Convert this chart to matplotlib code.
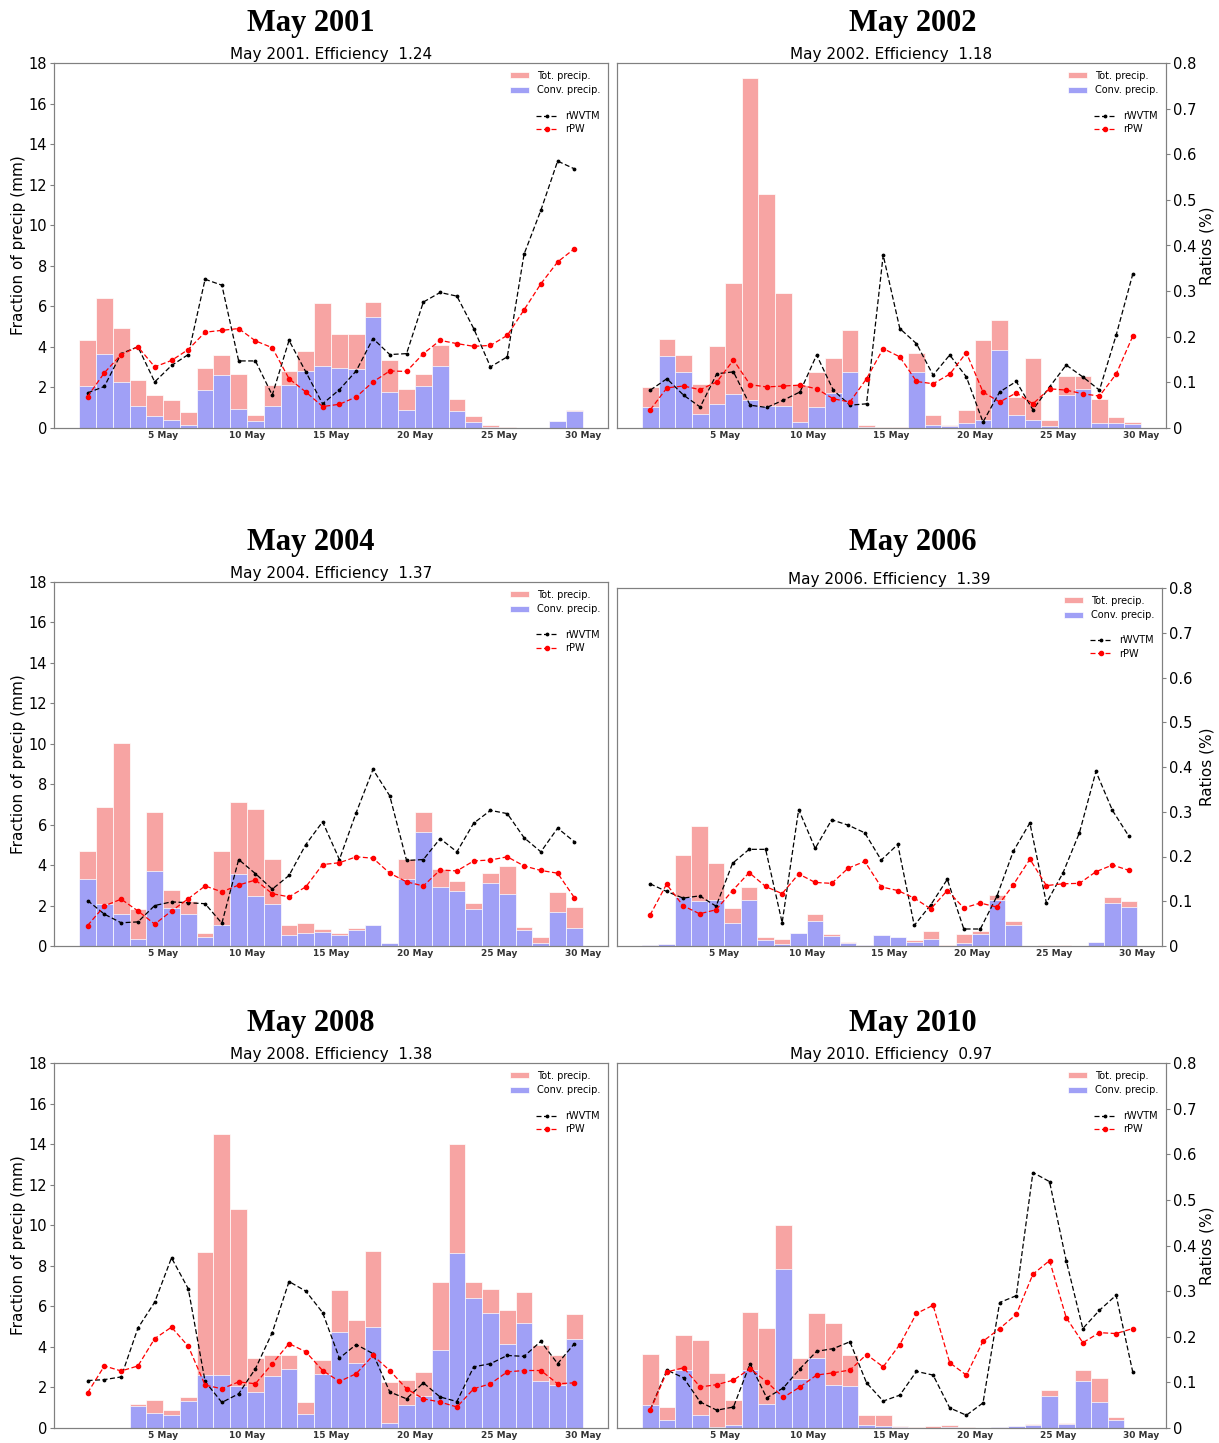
import numpy as np
import matplotlib.pyplot as plt
from matplotlib.ticker import FuncFormatter

plt.rcParams['font.family'] = 'DejaVu Sans'

# day of month, bars are drawn between day-1 and day
days = list(range(1, 31))
day_ticks = [5, 10, 15, 20, 25, 30]
day_labels = ['5 May', '10 May', '15 May', '20 May', '25 May', '30 May']

years = ['2001', '2002', '2004', '2006', '2008', '2010']
efficiency = ['1.24', '1.18', '1.37', '1.39', '1.38', '0.97']

# ---- May 2001
tot_2001 = [4.36, 6.41, 4.95, 2.35, 1.64, 1.40, 0.79, 2.96, 3.62, 2.65, 0.62, 2.14, 2.79, 3.80, 6.16,
            4.62, 4.65, 6.21, 3.34, 1.94, 2.68, 4.08, 1.45, 0.58, 0.13, 0.05, 0.0, 0.0, 0.35, 0.87]
conv_2001 = [2.05, 3.67, 2.27, 1.07, 0.59, 0.38, 0.13, 1.86, 2.60, 0.92, 0.35, 1.10, 2.10, 2.79, 3.06,
             2.96, 2.93, 5.47, 1.78, 0.87, 2.05, 3.04, 0.84, 0.30, 0.05, 0.02, 0.0, 0.0, 0.33, 0.85]
rwvtm_2001 = [0.077, 0.091, 0.163, 0.178, 0.101, 0.137, 0.161, 0.326, 0.313, 0.147, 0.147, 0.072, 0.192,
              0.123, 0.053, 0.084, 0.125, 0.196, 0.161, 0.163, 0.276, 0.297, 0.289, 0.218, 0.134, 0.156,
              0.381, 0.477, 0.585, 0.568]
rpw_2001 = [0.069, 0.121, 0.161, 0.178, 0.134, 0.148, 0.172, 0.210, 0.214, 0.218, 0.191, 0.176, 0.108,
            0.079, 0.047, 0.052, 0.068, 0.101, 0.125, 0.124, 0.163, 0.192, 0.185, 0.179, 0.181, 0.203,
            0.259, 0.316, 0.364, 0.393]

# ---- May 2002
tot_2002 = [2.03, 4.37, 3.62, 2.19, 4.05, 7.17, 17.27, 11.55, 6.67, 2.11, 2.77, 3.43, 4.83, 0.13, 0.03,
            0.05, 3.71, 0.66, 0.15, 0.87, 4.33, 5.35, 1.53, 3.43, 0.41, 2.55, 2.55, 1.45, 0.54, 0.30]
conv_2002 = [1.04, 3.54, 2.77, 0.71, 1.17, 1.66, 1.37, 1.07, 1.07, 0.30, 1.04, 1.73, 2.77, 0.05, 0.02,
             0.02, 2.77, 0.13, 0.08, 0.25, 0.38, 3.87, 0.66, 0.41, 0.08, 1.65, 1.94, 0.25, 0.25, 0.18]
rwvtm_2002 = [0.083, 0.108, 0.072, 0.046, 0.119, 0.123, 0.050, 0.045, 0.061, 0.079, 0.160, 0.083, 0.050,
              0.053, 0.379, 0.218, 0.185, 0.116, 0.160, 0.112, 0.013, 0.079, 0.102, 0.040, 0.090, 0.138,
              0.112, 0.083, 0.203, 0.337]
rpw_2002 = [0.040, 0.088, 0.092, 0.084, 0.101, 0.149, 0.095, 0.090, 0.092, 0.094, 0.086, 0.064, 0.057,
            0.108, 0.174, 0.156, 0.102, 0.097, 0.118, 0.165, 0.079, 0.057, 0.077, 0.053, 0.086, 0.083,
            0.075, 0.070, 0.118, 0.201]

# ---- May 2004
tot_2004 = [4.70, 6.89, 10.05, 1.85, 6.64, 2.75, 2.23, 0.66, 4.70, 7.12, 6.76, 4.32, 1.02, 1.12, 0.86,
            0.66, 0.91, 1.04, 0.16, 4.29, 6.64, 3.82, 3.21, 2.14, 3.63, 3.96, 0.96, 0.45, 2.69, 1.93]
conv_2004 = [3.33, 2.06, 1.60, 0.36, 3.71, 1.90, 1.60, 0.46, 1.02, 3.58, 2.47, 2.09, 0.53, 0.66, 0.69,
             0.53, 0.79, 1.04, 0.16, 3.30, 5.65, 2.93, 2.72, 1.85, 3.13, 2.55, 0.79, 0.16, 1.70, 0.91]
rwvtm_2004 = [0.100, 0.070, 0.051, 0.053, 0.089, 0.097, 0.095, 0.093, 0.050, 0.190, 0.159, 0.125, 0.155,
              0.223, 0.273, 0.190, 0.293, 0.388, 0.330, 0.188, 0.190, 0.236, 0.207, 0.270, 0.298, 0.291,
              0.238, 0.207, 0.259, 0.229]
rpw_2004 = [0.045, 0.088, 0.103, 0.077, 0.048, 0.077, 0.104, 0.132, 0.119, 0.134, 0.145, 0.115, 0.108,
            0.130, 0.179, 0.183, 0.196, 0.193, 0.160, 0.141, 0.132, 0.167, 0.165, 0.187, 0.189, 0.196,
            0.176, 0.166, 0.160, 0.106]

# ---- May 2006
tot_2006 = [0.05, 0.08, 4.58, 6.02, 4.19, 1.91, 2.96, 0.47, 0.37, 0.63, 1.63, 0.58, 0.20, 0.03, 0.53,
            0.47, 0.30, 0.75, 0.03, 0.58, 0.75, 2.58, 1.25, 0.0, 0.05, 0.03, 0.0, 0.20, 2.45, 2.28]
conv_2006 = [0.05, 0.08, 2.45, 2.25, 2.33, 1.16, 2.33, 0.30, 0.08, 0.63, 1.25, 0.50, 0.17, 0.03, 0.53,
             0.45, 0.20, 0.37, 0.0, 0.13, 0.62, 2.33, 1.08, 0.0, 0.0, 0.0, 0.0, 0.20, 2.16, 1.96]
rwvtm_2006 = [0.139, 0.122, 0.107, 0.112, 0.089, 0.185, 0.216, 0.216, 0.052, 0.305, 0.218, 0.282, 0.270,
              0.253, 0.192, 0.227, 0.046, 0.092, 0.149, 0.038, 0.038, 0.111, 0.212, 0.275, 0.096, 0.163,
              0.253, 0.390, 0.303, 0.245]
rpw_2006 = [0.069, 0.138, 0.090, 0.072, 0.081, 0.124, 0.164, 0.133, 0.117, 0.161, 0.142, 0.140, 0.174,
            0.189, 0.132, 0.124, 0.107, 0.083, 0.124, 0.085, 0.096, 0.087, 0.137, 0.194, 0.135, 0.139,
            0.140, 0.166, 0.181, 0.169]

# ---- May 2008
tot_2008 = [0.02, 0.01, 0.0, 1.20, 1.40, 0.87, 1.53, 8.68, 14.52, 10.78, 3.45, 3.58, 3.62, 1.28, 3.34,
            6.82, 5.31, 8.73, 2.27, 2.35, 2.76, 7.20, 13.99, 7.20, 6.87, 5.84, 6.71, 4.11, 3.58, 5.64]
conv_2008 = [0.02, 0.01, 0.0, 1.07, 0.74, 0.66, 1.32, 2.60, 2.60, 2.05, 1.78, 2.56, 2.93, 0.71, 2.68,
             4.73, 3.21, 4.98, 0.25, 1.15, 1.56, 3.83, 8.65, 6.43, 5.67, 4.16, 5.18, 2.30, 2.10, 4.41]
rwvtm_2008 = [0.104, 0.106, 0.112, 0.219, 0.276, 0.373, 0.305, 0.102, 0.056, 0.075, 0.130, 0.209, 0.321,
              0.300, 0.253, 0.153, 0.183, 0.163, 0.079, 0.064, 0.099, 0.068, 0.058, 0.134, 0.141, 0.159,
              0.157, 0.190, 0.141, 0.185]
rpw_2008 = [0.077, 0.136, 0.125, 0.136, 0.196, 0.221, 0.179, 0.094, 0.086, 0.101, 0.097, 0.141, 0.185,
            0.167, 0.126, 0.102, 0.119, 0.159, 0.126, 0.086, 0.064, 0.057, 0.046, 0.086, 0.097, 0.123,
            0.126, 0.126, 0.097, 0.099]

# ---- May 2010
tot_2010 = [3.64, 1.04, 4.61, 4.33, 2.69, 1.40, 5.73, 4.94, 10.02, 3.46, 5.68, 5.19, 3.62, 0.63, 0.66,
            0.12, 0.03, 0.08, 0.13, 0.03, 0.0, 0.03, 0.08, 0.18, 1.89, 0.25, 2.85, 2.47, 0.54, 0.0]
conv_2010 = [1.12, 0.41, 2.88, 0.66, 0.05, 0.13, 2.85, 1.20, 7.83, 2.44, 3.46, 2.11, 2.06, 0.13, 0.08,
             0.03, 0.0, 0.02, 0.03, 0.0, 0.0, 0.03, 0.08, 0.15, 1.57, 0.18, 2.31, 1.29, 0.41, 0.0]
rwvtm_2010 = [0.040, 0.127, 0.110, 0.057, 0.039, 0.046, 0.141, 0.066, 0.088, 0.130, 0.168, 0.174, 0.189,
              0.099, 0.059, 0.072, 0.124, 0.116, 0.044, 0.028, 0.055, 0.275, 0.290, 0.560, 0.540, 0.367,
              0.218, 0.258, 0.291, 0.123]
rpw_2010 = [0.039, 0.123, 0.132, 0.090, 0.095, 0.105, 0.130, 0.101, 0.067, 0.090, 0.116, 0.121, 0.127,
            0.161, 0.134, 0.183, 0.251, 0.269, 0.143, 0.116, 0.190, 0.218, 0.249, 0.337, 0.367, 0.242,
            0.187, 0.209, 0.207, 0.218]

tot_all = [tot_2001, tot_2002, tot_2004, tot_2006, tot_2008, tot_2010]
conv_all = [conv_2001, conv_2002, conv_2004, conv_2006, conv_2008, conv_2010]
rwvtm_all = [rwvtm_2001, rwvtm_2002, rwvtm_2004, rwvtm_2006, rwvtm_2008, rwvtm_2010]
rpw_all = [rpw_2001, rpw_2002, rpw_2004, rpw_2006, rpw_2008, rpw_2010]

W, H = 1219, 1443
fig = plt.figure(figsize=(W / 100, H / 100), dpi=100)

# panel boxes in pixels: left, right, top, bottom, big title y
boxes = [(54, 608, 63, 428, 23), (617, 1166, 63, 428, 23),
         (54, 608, 582, 946, 542), (617, 1162, 588, 946, 542),
         (54, 608, 1063, 1428, 1023), (617, 1166, 1063, 1428, 1023)]

tot_col = '#F7A4A3'
conv_col = '#A0A0F6'
spine_col = '#808080'

x = np.array(days) - 0.5

for i in range(6):
    l, r, t, b, ty = boxes[i]
    ax = fig.add_axes([l / W, 1 - b / H, (r - l) / W, (b - t) / H])
    ax.bar(x, tot_all[i], width=1, color=tot_col, edgecolor='white', linewidth=0.5, label='Tot. precip.')
    ax.bar(x, conv_all[i], width=1, color=conv_col, edgecolor='white', linewidth=0.5, label='Conv. precip.')
    ax.set_xlim(-1.5, 31.5)
    ax.set_ylim(0, 18)
    ax.set_yticks(range(0, 19, 2))
    ax.set_xticks(day_ticks)
    ax.set_xticklabels(day_labels, fontsize=6.5, fontweight='bold', color='#333333')
    ax.tick_params(axis='x', length=0, pad=2.5)
    ax.tick_params(axis='y', labelsize=10.5, length=3, pad=2, color=spine_col)
    ax.set_title('May %s. Efficiency  %s' % (years[i], efficiency[i]), fontsize=11, pad=3)

    ax2 = ax.twinx()
    ax2.plot(x, rwvtm_all[i], color='black', ls='--', dashes=(4, 2), lw=0.9, marker='.', ms=3.5, label='rWVTM')
    ax2.plot(x, rpw_all[i], color='red', ls='--', dashes=(4, 2), lw=0.9, marker='o', ms=3, label='rPW')
    ax2.set_ylim(0, 0.8)
    ax2.set_xlim(-1.5, 31.5)
    ax2.yaxis.set_major_formatter(FuncFormatter(lambda v, p: '%g' % round(v, 2)))
    ax2.tick_params(axis='y', labelsize=10.5, length=3, pad=2, color=spine_col)

    for a in (ax, ax2):
        for s in a.spines.values():
            s.set_color(spine_col)
            s.set_linewidth(0.8)

    if i % 2 == 0:
        ax.set_ylabel('Fraction of precip (mm)', fontsize=11)
        ax.yaxis.set_label_coords((26 - l) / (r - l), 0.5)
        ax2.tick_params(axis='y', labelright=False, right=False)
    else:
        ax.tick_params(axis='y', labelleft=False, left=False)
        ax2.set_ylabel('Ratios (%)', fontsize=11)
        ax2.yaxis.set_label_coords((1200 - l) / (r - l), 0.5)

    ax.legend(loc='upper right', frameon=False, fontsize=7, handlelength=2.0,
              handleheight=0.6, labelspacing=0.45, borderaxespad=0.4)
    ax2.legend(loc='upper right', bbox_to_anchor=(1, 0.89), frameon=False, fontsize=7,
               handlelength=2.2, labelspacing=0.35, borderaxespad=0.4)

    cx = 311 if i % 2 == 0 else 913
    fig.text(cx / W, 1 - ty / H, 'May ' + years[i], ha='center', va='center',
             fontsize=22, fontweight='bold', family='Liberation Serif')

fig.savefig('out.png', dpi=100)
